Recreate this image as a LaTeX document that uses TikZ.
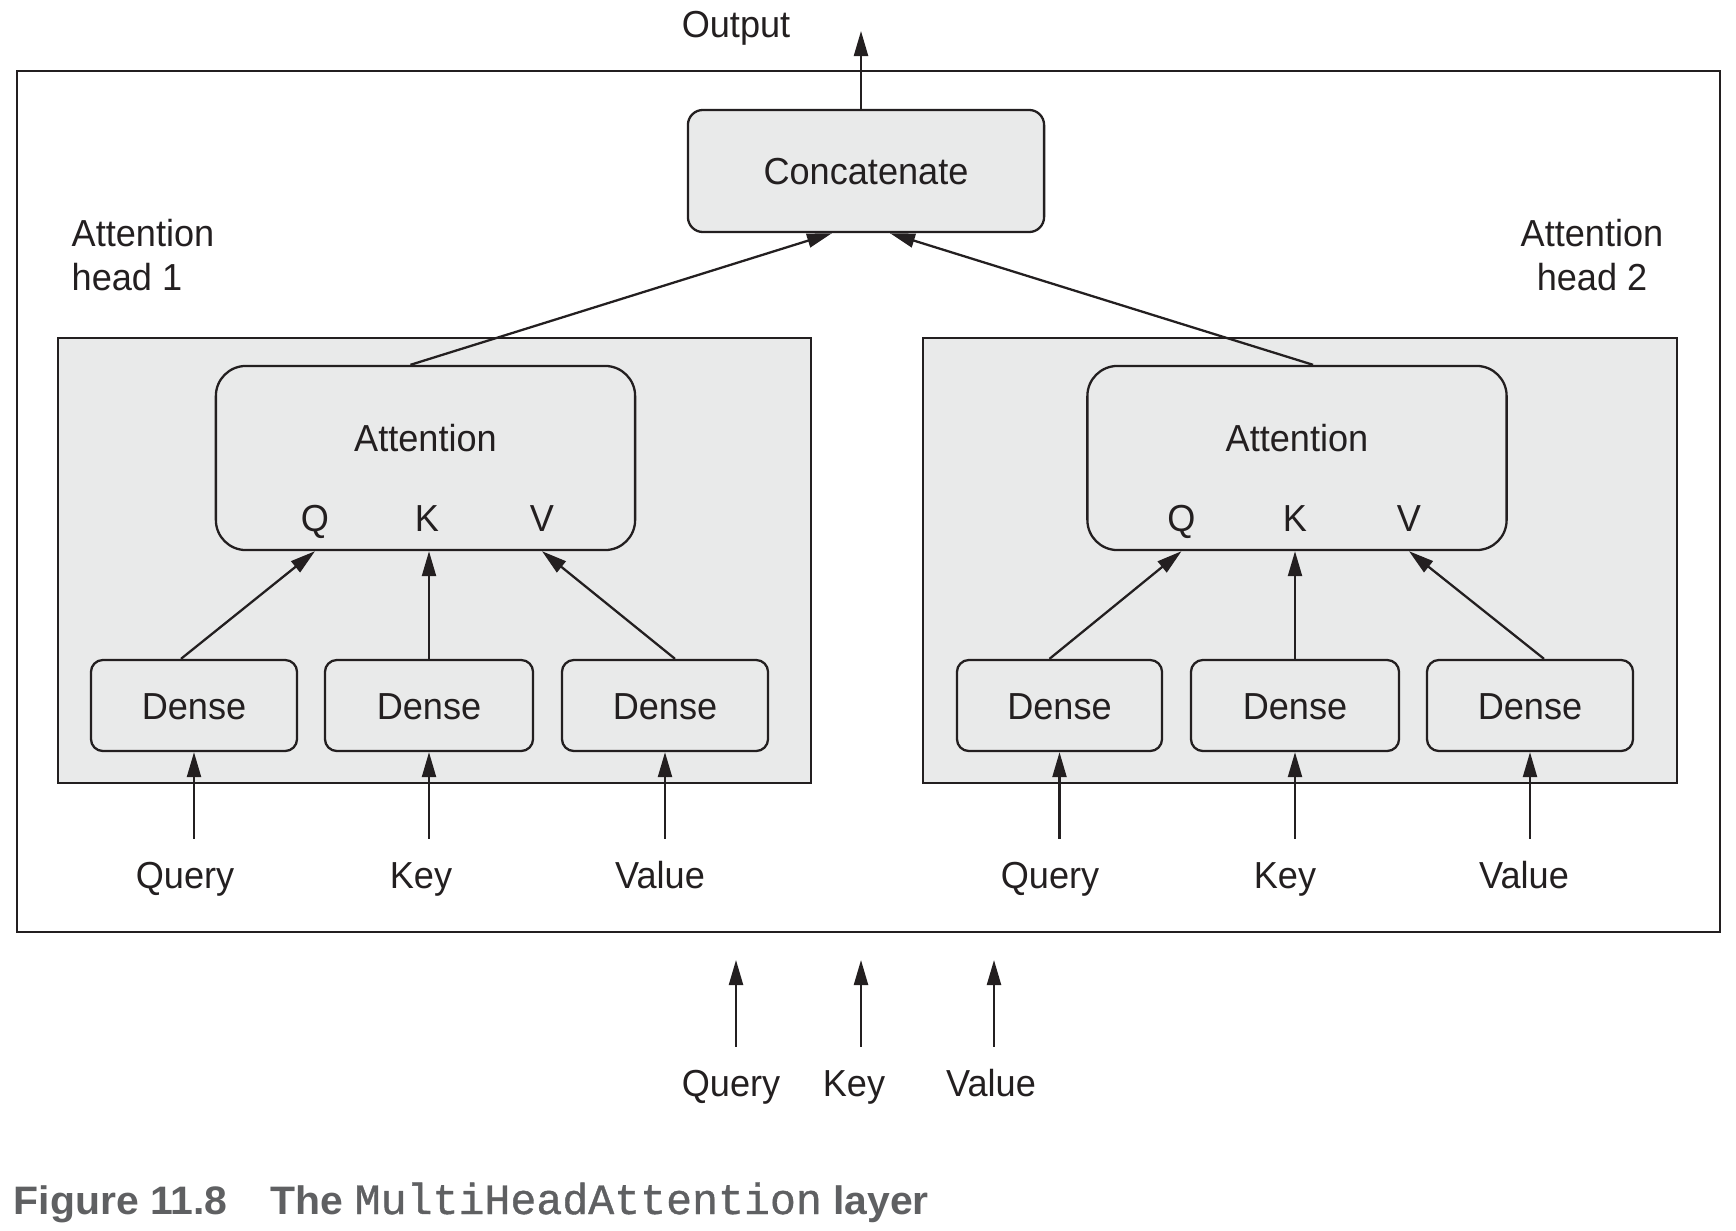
\documentclass[tikz,border=0pt]{standalone}
\usepackage{fontspec}
\setmainfont{Liberation Sans}[FakeStretch=0.96]
\newfontfamily\capsans{Liberation Sans}[FakeStretch=1.03]
\newfontfamily\capmono{Liberation Mono}[UprightFeatures={FakeBold=0.9}]
\usetikzlibrary{arrows.meta, positioning}
\definecolor{ink}{HTML}{231F20}
\definecolor{panelgray}{HTML}{E9EAEA}
\definecolor{capgray}{HTML}{5F6062}
\tikzset{
	lbl/.style={inner sep=0pt, text height=0.27cm, text depth=0pt, text=ink, font=\fontsize{10.7}{12.5}\selectfont},
	inlbl/.style={lbl, inner ysep=0.22cm},
	headlbl/.style={inner sep=0pt, text=ink, font=\fontsize{10.7}{12.5}\selectfont},
	catbox/.style={lbl, draw=ink, line width=0.65pt, fill=panelgray, rounded corners=0.15cm, minimum width=3.56cm, minimum height=1.22cm},
	attbox/.style={draw=ink, line width=0.65pt, fill=panelgray, rounded corners=0.3cm, minimum width=4.19cm, minimum height=1.84cm},
	dbox/.style={lbl, draw=ink, line width=0.65pt, fill=panelgray, rounded corners=0.12cm, minimum height=0.91cm},
	panel/.style={draw=ink, line width=0.65pt, fill=panelgray, minimum width=7.53cm, minimum height=4.45cm},
	arr/.style={-{Triangle[length=0.25cm, width=0.14cm]}, draw=ink, line width=0.65pt},
}
\begin{document}
\begin{tikzpicture}[x=0.01cm, y=-0.01cm]
	\path[use as bounding box] (0,0) rectangle (1736,1230);
	% layer
	\draw[ink, line width=0.6pt] (17,71) rectangle (1720,932);
	\node[lbl] (outlbl) at (736,24) {Output};
	\coordinate (outtip) at (861,31);
	\node[catbox] (concat) at (866,171) {Concatenate};
	\draw[arr] (concat.north -| outtip) -- (outtip);
	% head 1
	\node[headlbl, anchor=west, align=left] (h1lbl) at (71,255) {Attention\\head 1};
	\node[panel] (head1) at (434.5,560.5) {};
	\node[attbox] (att1) at (425.5,458) {};
	\node[lbl] (att1txt) at (425.5,438) {Attention};
	\node[lbl] (q1) at (315,518) {Q};
	\node[lbl] (k1) at (427,518) {K};
	\node[lbl] (v1) at (542,518) {V};
	\node[dbox, minimum width=2.06cm] (dq1) at (194,705.5) {Dense};
	\node[dbox, minimum width=2.08cm] (dk1) at (429,705.5) {Dense};
	\node[dbox, minimum width=2.06cm] (dv1) at (665,705.5) {Dense};
	\node[inlbl] (qry1) at (185,875) {Query};
	\node[inlbl] (key1) at (421,875) {Key};
	\node[inlbl] (val1) at (660,875) {Value};
	\draw[arr] ([xshift=-0.13cm]dq1.north) -- (att1.south -| q1);
	\draw[arr] (dk1.north) -- (att1.south -| dk1);
	\draw[arr] ([xshift=0.1cm]dv1.north) -- (att1.south -| v1);
	\draw[arr] (qry1.north -| dq1) -- (dq1.south);
	\draw[arr] (key1.north -| dk1) -- (dk1.south);
	\draw[arr] (val1.north -| dv1) -- (dv1.south);
	\draw[arr] ([xshift=-0.15cm]att1.north) -- ([xshift=-0.34cm]concat.south);
	% head 2
	\node[headlbl, align=center] (h2lbl) at (1592,255) {Attention\\head 2};
	\node[panel] (head2) at (1300,560.5) {};
	\node[attbox] (att2) at (1297,458) {};
	\node[lbl] (att2txt) at (1297,438) {Attention};
	\node[lbl] (q2) at (1181.5,518) {Q};
	\node[lbl] (k2) at (1295,518) {K};
	\node[lbl] (v2) at (1409,518) {V};
	\node[dbox, minimum width=2.05cm] (dq2) at (1059.5,705.5) {Dense};
	\node[dbox, minimum width=2.08cm] (dk2) at (1295,705.5) {Dense};
	\node[dbox, minimum width=2.06cm] (dv2) at (1530,705.5) {Dense};
	\node[inlbl] (qry2) at (1050,875) {Query};
	\node[inlbl] (key2) at (1285,875) {Key};
	\node[inlbl] (val2) at (1524,875) {Value};
	\draw[arr] ([xshift=-0.1cm]dq2.north) -- (att2.south -| q2);
	\draw[arr] (dk2.north) -- (att2.south -| dk2);
	\draw[arr] ([xshift=0.14cm]dv2.north) -- (att2.south -| v2);
	\draw[arr] (qry2.north -| dq2) -- (dq2.south);
	\draw[arr] (key2.north -| dk2) -- (dk2.south);
	\draw[arr] (val2.north -| dv2) -- (dv2.south);
	\draw[arr] ([xshift=0.16cm]att2.north) -- ([xshift=0.24cm]concat.south);
	% layer inputs
	\node[inlbl] (qry) at (731,1083) {Query};
	\node[inlbl] (key) at (854,1083) {Key};
	\node[inlbl] (val) at (991,1083) {Value};
	\coordinate (tq) at (736,960);
	\coordinate (tk) at (861,960);
	\coordinate (tv) at (994,960);
	\draw[arr] (qry.north -| tq) -- (tq);
	\draw[arr] (key.north -| tk) -- (tk);
	\draw[arr] (val.north -| tv) -- (tv);
	% caption
	\node[inner sep=0pt, anchor=base west, text=capgray, font=\capsans\bfseries\fontsize{11.3}{14}\selectfont] (cap) at (13,1214)
		{Figure 11.8\hspace{0.43cm}The {\capmono\mdseries\fontsize{12.3}{14}\selectfont MultiHeadAttention} layer};
\end{tikzpicture}
\end{document}
